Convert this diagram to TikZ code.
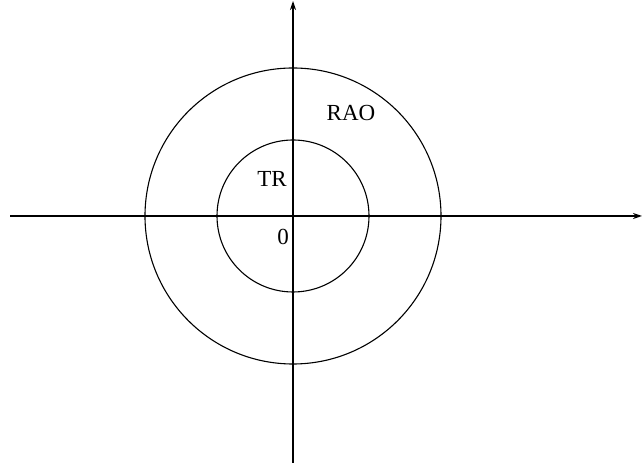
\documentclass[tikz,border=0pt]{standalone}
\usepackage{fontspec}
\setmainfont{Liberation Serif}
\usepackage{tikz}
\usetikzlibrary{arrows.meta, positioning}

\begin{document}
\begin{tikzpicture}[x=1pt,y=1pt]
            \useasboundingbox (0,0) rectangle (643,465);
            \tikzset{lbl/.style={font=\fontsize{23}{25}\selectfont, inner sep=0pt}}
            \coordinate (o) at (293,249);
            \coordinate (xl) at (10,249);
            \coordinate (xr) at (642,249);
            \coordinate (yb) at (293,2);
            \coordinate (yt) at (293,464);
            \draw[line width=1.3pt,-{Stealth[length=9pt,width=6pt]}] (xl) -- (xr);
            \draw[line width=1.3pt,-{Stealth[length=9pt,width=6pt]}] (yb) -- (yt);
            \draw[line width=1.1pt] (o) circle (148);
            \draw[line width=1.1pt] (o) circle (76);
            \node[lbl](rao) at (351,352) {RAO};
            \node[lbl](tr) at (272,286) {TR};
            \node[lbl](zero) at (283,228) {0};
        \end{tikzpicture}
\end{document}
